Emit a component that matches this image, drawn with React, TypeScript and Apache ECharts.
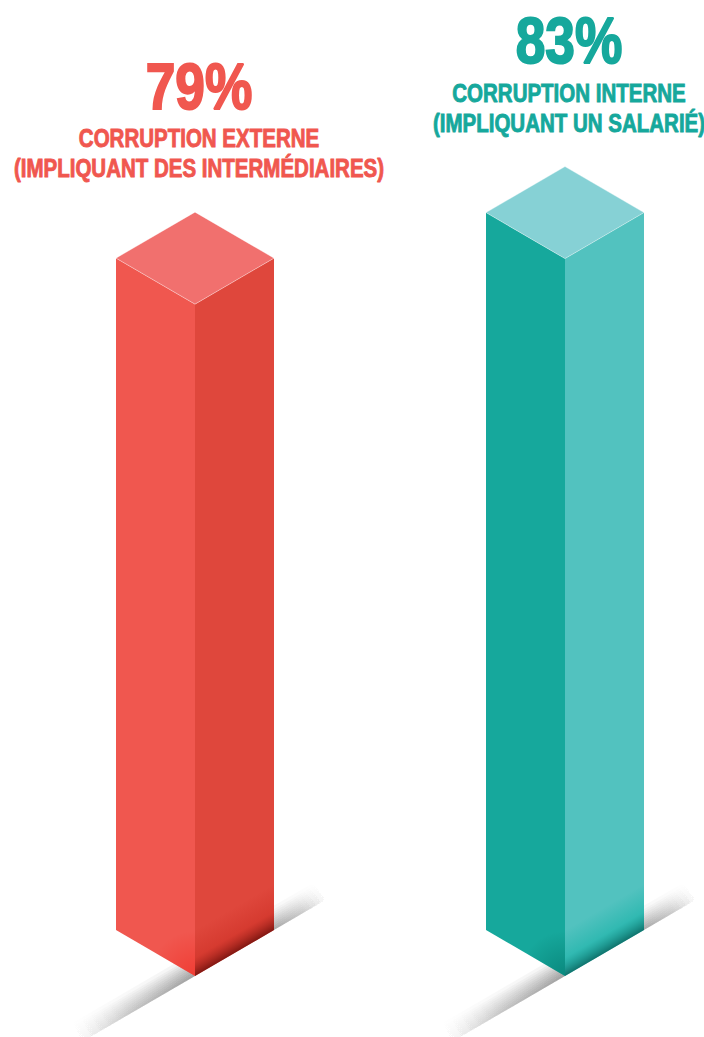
import React, { useEffect, useRef } from "react";
import * as echarts from "echarts";

// ---- Data ----
const categories = ["Corruption externe", "Corruption interne"];
const values = [79, 83];
const titleLine1 = ["CORRUPTION EXTERNE", "CORRUPTION INTERNE"];
const titleLine2 = ["(IMPLIQUANT DES INTERMÉDIAIRES)", "(IMPLIQUANT UN SALARIÉ)"];

// ---- Styles ----
const PALETTE = [
  { text: "#F0574F", left: "#F0574F", right: "#DF473C", top: "#F1706E", shade: "105,12,8", shadeMid: "200,40,30", corner: "240,40,30" },
  { text: "#16A89C", left: "#16A89C", right: "#52C2BF", top: "#86D1D5", shade: "0,95,88", shadeMid: "0,172,158", corner: "0,110,100" },
];
const Y_MIN = 20;
const Y_MAX = 100;
const HALF_W = 79;
const DEPTH = 46;
const FONT = "'Liberation Sans', Arial, sans-serif";
const BIG_SIZE = 65;
const SUB_SIZE = 25;
const NARROW = 0.82;

function renderItem(params: any, api: any) {
  const i = api.value(0);
  const v = api.value(1);
  const pal = PALETTE[i];
  const topPt = api.coord([i, v]);
  const basePt = api.coord([i, Y_MIN]);
  const cx = topPt[0];
  const ft = topPt[1];
  const fb = basePt[1];
  const L = cx - HALF_W;
  const R = cx + HALF_W;
  const len = Math.sqrt(HALF_W * HALF_W + DEPTH * DEPTH);
  const ux = HALF_W / len, uy = -DEPTH / len; // up-right along bottom edge
  const nx = -DEPTH / len, ny = -HALF_W / len; // up-left normal

  const children: any[] = [];

  // floor shadows (stacked soft bands)
  const widths = [2, 4, 6, 8, 10, 12, 14, 16, 18, 21];
  const addShadow = (sx: number, sy: number, dist: number, r: number, alpha: number) => {
    const ex = sx + ux * dist, ey = sy + uy * dist;
    widths.forEach((w) => {
      children.push({
        type: "polygon",
        shape: {
          points: [
            [sx, sy],
            [ex, ey],
            [ex + nx * w, ey + ny * w],
            [sx + nx * w, sy + ny * w],
          ],
        },
        style: {
          fill: new echarts.graphic.RadialGradient(sx, sy, r, [
            { offset: 0, color: `rgba(0,0,0,${alpha})` },
            { offset: 0.55, color: `rgba(0,0,0,${alpha * 0.55})` },
            { offset: 1, color: "rgba(0,0,0,0)" },
          ], true),
        },
        silent: true,
      });
    });
  };
  addShadow(cx, fb, -135, 135, 0.045);
  addShadow(R, fb - DEPTH, 62, 62, 0.04);

  // faces
  children.push({
    type: "polygon",
    shape: { points: [[L, ft - DEPTH], [cx, ft], [cx, fb], [L, fb - DEPTH]] },
    style: { fill: pal.left },
  });
  children.push({
    type: "polygon",
    shape: { points: [[cx, ft], [R, ft - DEPTH], [R, fb - DEPTH], [cx, fb]] },
    style: { fill: pal.right },
  });
  // right face bottom darkening
  const H = 46;
  const mx = (cx + R) / 2, my = fb - DEPTH / 2;
  const gd = H * (HALF_W / len);
  children.push({
    type: "polygon",
    shape: { points: [[cx, fb], [R, fb - DEPTH], [R, fb - DEPTH - H], [cx, fb - H]] },
    style: {
      fill: new echarts.graphic.LinearGradient(mx, my, mx + nx * gd, my + ny * gd, [
        { offset: 0, color: `rgba(${pal.shade},0.8)` },
        { offset: 0.4, color: `rgba(${pal.shadeMid},0.4)` },
        { offset: 1, color: `rgba(${pal.shadeMid},0)` },
      ], true),
    },
    silent: true,
  });
  // left face bottom corner tint
  children.push({
    type: "polygon",
    shape: { points: [[L, fb - DEPTH], [cx, fb], [cx, fb - 50], [L, fb - DEPTH - 50]] },
    style: {
      fill: new echarts.graphic.RadialGradient(cx, fb, 45, [
        { offset: 0, color: `rgba(${pal.corner},0.55)` },
        { offset: 1, color: `rgba(${pal.corner},0)` },
      ], true),
    },
    silent: true,
  });
  // top face
  children.push({
    type: "polygon",
    shape: { points: [[cx, ft - 2 * DEPTH], [R, ft - DEPTH], [cx, ft], [L, ft - DEPTH]] },
    style: { fill: pal.top, stroke: "rgba(255,255,255,0.45)", lineWidth: 0.8 },
  });

  // labels, positioned from the top vertex
  const topY = ft - 2 * DEPTH;
  const tx = cx + 4;
  const central = (baseline: number, size: number) => baseline - 0.3465 * size;
  const label = (text: string, baseline: number, size: number, weight: number) => ({
    type: "text",
    x: tx,
    y: central(baseline, size),
    scaleX: NARROW,
    style: {
      text,
      fill: pal.text,
      stroke: pal.text,
      lineWidth: weight,
      fontFamily: FONT,
      fontWeight: "bold",
      fontSize: size,
      align: "center",
      verticalAlign: "middle",
    },
  });
  children.push(label(`${values[i]}%`, topY - 103, BIG_SIZE, 2));
  children.push(label(titleLine1[i], topY - 65, SUB_SIZE, 0.9));
  children.push(label(titleLine2[i], topY - 35, SUB_SIZE, 0.9));

  return { type: "group", children };
}

export default function App() {
  const ref = useRef<HTMLDivElement>(null);
  useEffect(() => {
    if (!ref.current) return;
    const chart = echarts.init(ref.current, undefined, { renderer: "svg" });
    chart.setOption({
      animation: false,
      backgroundColor: "#ffffff",
      grid: { left: 195, right: 139, top: 65, bottom: 61 },
      xAxis: { type: "category", data: categories, boundaryGap: false, show: false },
      yAxis: { type: "value", min: Y_MIN, max: Y_MAX, show: false },
      series: [
        {
          type: "custom",
          renderItem,
          clip: false,
          encode: { x: 0, y: 1 },
          data: values.map((v, i) => [i, v]),
        },
      ],
    });
    return () => chart.dispose();
  }, []);
  return (
    <div
      ref={ref}
      style={{ position: "absolute", left: 0, top: 0, width: 704, height: 1037 }}
    />
  );
}
